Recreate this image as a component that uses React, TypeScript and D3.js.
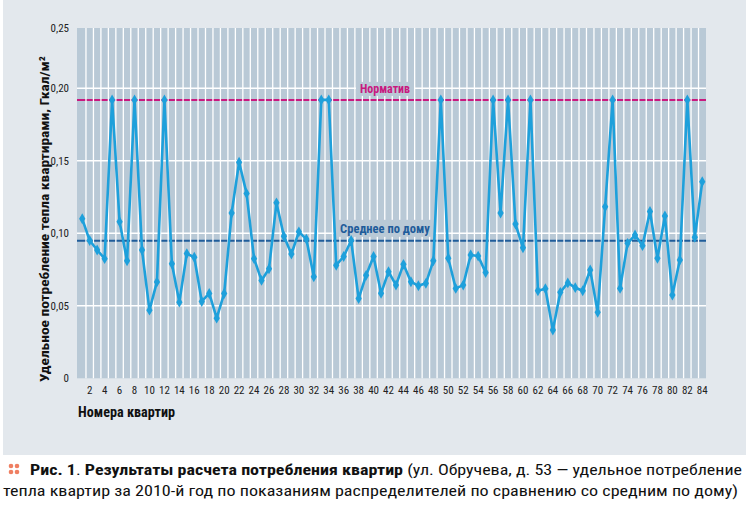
import React from "react";
import * as d3 from "d3";

const apartments: number[] = Array.from({ length: 84 }, (_, i) => i + 1);
const consumption: number[] = [
  0.110, 0.095, 0.0885, 0.0825, 0.192, 0.108, 0.081, 0.192, 0.0885, 0.047,
  0.0665, 0.192, 0.079, 0.0525, 0.086, 0.0835, 0.053, 0.0585, 0.0415, 0.0585,
  0.114, 0.149, 0.1275, 0.0825, 0.0675, 0.0755, 0.121, 0.098, 0.0857, 0.101,
  0.096, 0.070, 0.192, 0.192, 0.078, 0.084, 0.095, 0.055, 0.071, 0.084,
  0.0586, 0.0735, 0.0643, 0.0786, 0.0666, 0.0638, 0.0655, 0.081, 0.192, 0.0828,
  0.062, 0.0643, 0.085, 0.0843, 0.073, 0.192, 0.114, 0.192, 0.1064, 0.090,
  0.192, 0.0604, 0.0618, 0.0333, 0.0593, 0.0658, 0.0625, 0.0604, 0.0747, 0.0455,
  0.1183, 0.192, 0.062, 0.0931, 0.0988, 0.0915, 0.115, 0.0828, 0.112, 0.0574,
  0.0816, 0.192, 0.0972, 0.1356,
];
const normative = 0.192;
const houseAverage = 0.0948;
const yTickValues: number[] = [0, 0.05, 0.1, 0.15, 0.2];
const yTickLabels: string[] = ["0", "0,05", "0,10", "0,15", "0,20"];
const yTopLabel = "0,25";
const xTickValues: number[] = apartments.filter((a) => a % 2 === 0);

const condensed = "'Liberation Sans Narrow', 'Roboto Condensed', 'Arial Narrow', Roboto, sans-serif";

export default function App() {
  const W = 746;
  const H = 522;
  const plotLeft = 77;
  const plotRight = 706;
  const plotTop = 28;
  const plotBottom = 378.3;

  const x = d3
    .scaleBand<number>()
    .domain(apartments)
    .range([78.5, 706])
    .paddingInner(0)
    .paddingOuter(0);
  const y = d3.scaleLinear().domain([0, 0.2]).range([plotBottom, 88.3]);
  const cx = (a: number) => (x(a) ?? 0) + x.bandwidth() / 2;

  const line = d3
    .line<number>()
    .x((_, i) => cx(apartments[i]))
    .y((d) => y(d));

  const diamond = d3.symbol().type(d3.symbolDiamond).size(34)();

  const bandEdges = apartments.slice(1).map((a) => x(a) ?? 0);

  return (
    <svg width={W} height={H} style={{ display: "block", position: "absolute", left: 0, top: 0 }}>
      <rect x={0} y={0} width={W} height={H} fill="#ffffff" />
      <rect x={3} y={0} width={W - 3} height={455} fill="#e3e8ed" />
      {/* plot background */}
      <rect x={plotLeft} y={plotTop} width={plotRight - plotLeft} height={plotBottom - plotTop} fill="#b9c9d6" />
      {/* horizontal gridlines */}
      {yTickValues.slice(1).map((v) => (
        <line key={"h" + v} x1={plotLeft} x2={plotRight} y1={y(v)} y2={y(v)} stroke="#ffffff" strokeWidth={1.5} />
      ))}
      {/* reference lines */}
      <line x1={plotLeft} x2={plotRight} y1={y(normative)} y2={y(normative)} stroke="#c8197f" strokeWidth={2} />
      <line x1={plotLeft} x2={plotRight} y1={y(houseAverage)} y2={y(houseAverage)} stroke="#1f5c9a" strokeWidth={2} />
      {/* vertical gridlines */}
      {bandEdges.map((e, i) => (
        <line key={"v" + i} x1={e} x2={e} y1={plotTop} y2={plotBottom} stroke="#ffffff" strokeWidth={1.3} />
      ))}
      {/* reference labels */}
      <rect x={356} y={y(normative) - 18} width={58} height={14} fill="#b9c9d6" />
      <text x={385} y={y(normative) - 7} textAnchor="middle" fontFamily={condensed} fontWeight="bold" fontSize={12} fill="#c8197f">
        Норматив
      </text>
      <rect x={335} y={y(houseAverage) - 21} width={100} height={17} fill="#b9c9d6" />
      <text x={385} y={y(houseAverage) - 8} textAnchor="middle" fontFamily={condensed} fontWeight="bold" fontSize={12.5} fill="#1f5c9a">
        Среднее по дому
      </text>
      {/* data line */}
      <path d={line(consumption) ?? ""} fill="none" stroke="#1ea0db" strokeWidth={2.6} strokeLinejoin="round" />
      {consumption.map((v, i) => (
        <path key={"m" + i} d={diamond ?? ""} transform={`translate(${cx(apartments[i])},${y(v)})`} fill="#1ea0db" />
      ))}
      {/* y tick labels */}
      {yTickValues.map((v, i) => (
        <text key={"yt" + v} x={69} y={y(v) + 4} textAnchor="end" fontFamily={condensed} fontSize={11} fill="#222">
          {yTickLabels[i]}
        </text>
      ))}
      <text x={69} y={plotTop + 4} textAnchor="end" fontFamily={condensed} fontSize={11} fill="#222">
        {yTopLabel}
      </text>
      {/* x tick labels */}
      {xTickValues.map((a) => (
        <text key={"xt" + a} x={cx(a)} y={394} textAnchor="middle" fontFamily={condensed} fontSize={11} fill="#222">
          {a}
        </text>
      ))}
      {/* axis titles */}
      <text x={78} y={417} fontFamily={condensed} fontWeight="bold" fontSize={14} fill="#111" textLength={97} lengthAdjust="spacingAndGlyphs">
        Номера квартир
      </text>
      <text
        transform={`translate(49,219) rotate(-90)`}
        textAnchor="middle"
        fontFamily={condensed}
        fontWeight="bold"
        fontSize={13.5}
        fill="#111"
        textLength={326}
        lengthAdjust="spacingAndGlyphs"
      >
        Удельное потребление тепла квартирами, Гкал/м²
      </text>
      {/* caption icon */}
      {[0, 1].map((r) =>
        [0, 1].map((c) => (
          <circle key={`d${r}${c}`} cx={11 + c * 6} cy={466 + r * 6} r={2.3} fill="#ef7f62" />
        ))
      )}
      <text x={30} y={475} fontFamily={condensed} fontSize={15.5} fill="#111" textLength={712} lengthAdjust="spacingAndGlyphs">
        <tspan fontWeight="bold">Рис. 1</tspan>
        <tspan>. </tspan>
        <tspan fontWeight="bold">Результаты расчета потребления квартир</tspan>
        <tspan> (ул. Обручева, д. 53 — удельное потребление</tspan>
      </text>
      <text x={3} y={496} fontFamily={condensed} fontSize={15.5} fill="#111" textLength={735} lengthAdjust="spacingAndGlyphs">
        тепла квартир за 2010-й год по показаниям распределителей по сравнению со средним по дому)
      </text>
    </svg>
  );
}
